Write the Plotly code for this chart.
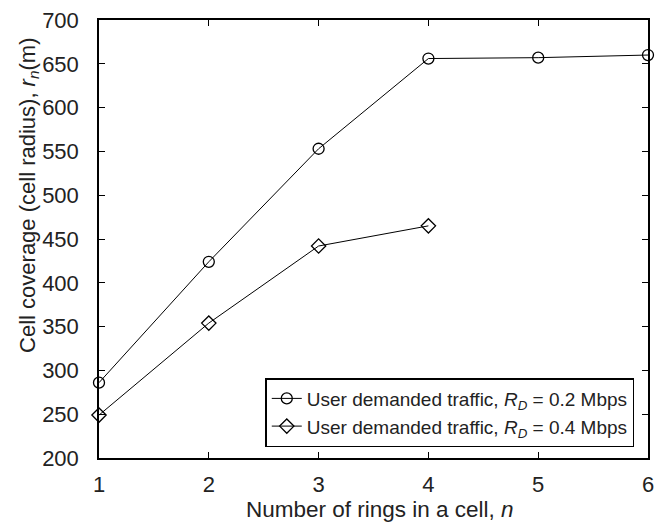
import plotly.graph_objects as go

# Number of rings in a cell
rings = [1, 2, 3, 4, 5, 6]
rings_04 = [1, 2, 3, 4]

# Cell radius r_n (m) for each user demanded traffic rate
radius_02 = [286, 424, 553, 656, 657, 660]
radius_04 = [249, 354, 442, 465]

x_ticks = [1, 2, 3, 4, 5, 6]
y_ticks = [200, 250, 300, 350, 400, 450, 500, 550, 600, 650, 700]

FONT = "Liberation Sans, Arial, sans-serif"

fig = go.Figure()
fig.add_trace(go.Scatter(
    x=rings, y=radius_02, mode="lines+markers",
    name="User demanded traffic, <i>R</i><sub><i>D</i></sub> = 0.2 Mbps",
    line=dict(color="black", width=1),
    marker=dict(symbol="circle-open", size=11, color="black", line=dict(width=1.3)),
    cliponaxis=False,
))
fig.add_trace(go.Scatter(
    x=rings_04, y=radius_04, mode="lines+markers",
    name="User demanded traffic, <i>R</i><sub><i>D</i></sub> = 0.4 Mbps",
    line=dict(color="black", width=1),
    marker=dict(symbol="diamond-open", size=11, color="black", line=dict(width=1.3)),
    cliponaxis=False,
))

axis_common = dict(
    showgrid=False, zeroline=False, showline=True, linecolor="black", linewidth=1.5,
    mirror="ticks", ticks="inside", ticklen=6, tickwidth=1, tickcolor="black",
    tickfont=dict(family=FONT, size=22, color="#222"),
)

fig.update_layout(
    width=661, height=524,
    margin=dict(l=99, r=7, t=20, b=66),
    paper_bgcolor="white", plot_bgcolor="white",
    font=dict(family=FONT, color="#222"),
    xaxis=dict(range=[1, 6], tickvals=x_ticks, ticklabelstandoff=6, **axis_common),
    yaxis=dict(range=[200, 700], tickvals=y_ticks, ticklabelstandoff=14, **axis_common),
    legend=dict(
        x=0.975, y=0.025, xanchor="right", yanchor="bottom",
        bgcolor="white", bordercolor="black", borderwidth=1.5,
        font=dict(family=FONT, size=19, color="#222"),
        itemwidth=30, tracegroupgap=0,
    ),
    showlegend=True,
    annotations=[
        dict(
            text="Number of rings in a cell, <i>n</i>",
            xref="paper", yref="paper", x=0.512, y=-0.118,
            xanchor="center", yanchor="middle", showarrow=False,
            font=dict(family=FONT, size=22.5, color="#222"),
        ),
        dict(
            text="Cell coverage (cell radius), <i>r</i><sub><i>n</i></sub>(m)",
            xref="paper", yref="paper", x=-0.128, y=0.6,
            xanchor="center", yanchor="middle", textangle=-90, showarrow=False,
            font=dict(family=FONT, size=22, color="#222"),
        ),
    ],
)

fig.write_html("out.html")
